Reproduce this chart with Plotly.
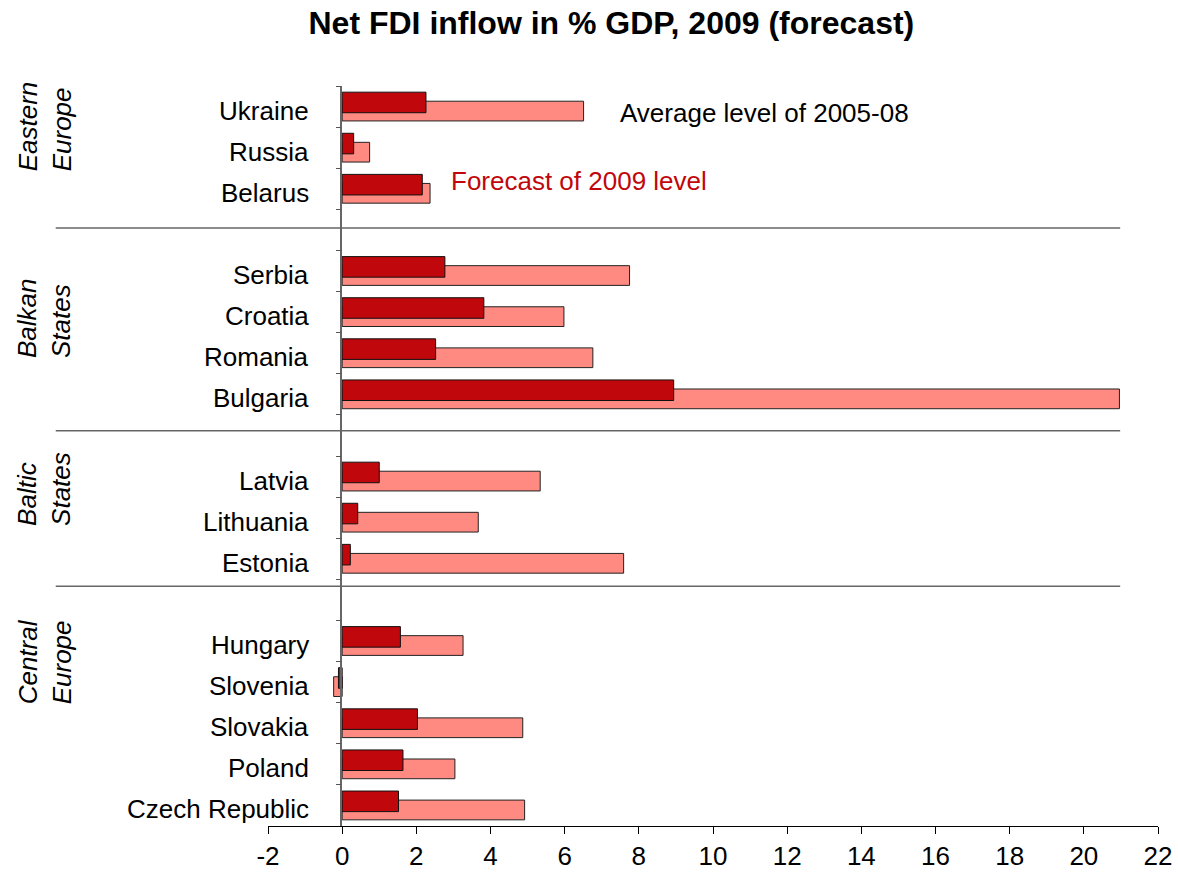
import plotly.graph_objects as go

# ---------------- data ----------------
row_order = ["Ukraine", "Russia", "Belarus", " ",
             "Serbia", "Croatia", "Romania", "Bulgaria", "  ",
             "Latvia", "Lithuania", "Estonia", "   ",
             "Hungary", "Slovenia", "Slovakia", "Poland", "Czech Republic"]
countries = ["Ukraine", "Russia", "Belarus",
             "Serbia", "Croatia", "Romania", "Bulgaria",
             "Latvia", "Lithuania", "Estonia",
             "Hungary", "Slovenia", "Slovakia", "Poland", "Czech Republic"]
forecast_2009 = [2.26, 0.31, 2.16,
                 2.77, 3.82, 2.52, 8.94,
                 1.00, 0.42, 0.22,
                 1.57, -0.10, 2.03, 1.64, 1.52]
average_2005_08 = [6.51, 0.74, 2.37,
                   7.75, 5.98, 6.76, 20.96,
                   5.34, 3.67, 7.59,
                   3.26, -0.23, 4.87, 3.04, 4.92]
group_labels = ["Eastern<br>Europe", "Balkan<br>States", "Baltic<br>States", "Central<br>Europe"]
group_label_y = [0.945, 0.686, 0.455, 0.222]      # paper y of group label centres
separator_y = [0.808, 0.534, 0.324]                 # paper y of group separators
x_ticks = [-2, 0, 2, 4, 6, 8, 10, 12, 14, 16, 18, 20, 22]

DARK = "#C0070C"
LIGHT = "#FF8A82"
FONT = "Liberation Sans, Arial, sans-serif"

fig = go.Figure()
fig.add_trace(go.Bar(
    y=countries, x=average_2005_08, orientation="h",
    width=0.48, offset=-0.13,
    marker=dict(color=LIGHT, line=dict(color="#222222", width=1)),
    name="Average level of 2005-08",
))
fig.add_trace(go.Bar(
    y=countries, x=forecast_2009, orientation="h",
    width=0.5, offset=-0.35,
    marker=dict(color=DARK, line=dict(color="#111111", width=1)),
    name="Forecast of 2009 level",
))

shapes = []
for sy in separator_y:
    shapes.append(dict(type="line", xref="paper", yref="paper",
                       x0=-0.2385, x1=0.9575, y0=sy, y1=sy,
                       line=dict(color="#666666", width=1.5)))

annotations = []
# country labels (right aligned, left of the zero axis)
for c in countries:
    annotations.append(dict(text=c, xref="paper", yref="y", x=0.048, y=c,
                            xanchor="right", yanchor="middle", yshift=-4,
                            showarrow=False,
                            font=dict(family=FONT, size=26, color="black")))
for txt, gy in zip(group_labels, group_label_y):
    annotations.append(dict(text="<i>" + txt.replace("<br>", "</i><br><i>") + "</i>",
                            xref="paper", yref="paper", x=-0.251, y=gy,
                            xanchor="center", yanchor="middle",
                            textangle=-90, align="left", showarrow=False,
                            font=dict(family=FONT, size=26, color="black")))
annotations.append(dict(text="Average level of 2005-08", xref="x", yref="paper",
                        x=7.45, y=0.9635, xanchor="left", yanchor="middle",
                        showarrow=False, font=dict(family=FONT, size=26, color="black")))
annotations.append(dict(text="Forecast of 2009 level", xref="x", yref="paper",
                        x=2.88, y=0.872, xanchor="left", yanchor="middle",
                        showarrow=False, font=dict(family=FONT, size=26, color=DARK)))

fig.update_layout(
    width=1178, height=874,
    margin=dict(l=268, r=20, t=86, b=48),
    paper_bgcolor="white", plot_bgcolor="white",
    barmode="overlay", showlegend=False,
    font=dict(family=FONT, size=26, color="black"),
    title=dict(text="<b>Net FDI inflow in % GDP, 2009 (forecast)</b>",
               xref="container", yref="container", x=0.519, y=0.974,
               xanchor="center", yanchor="middle",
               font=dict(family=FONT, size=32, color="black")),
    xaxis=dict(range=[-2, 22], tickvals=x_ticks, ticktext=[str(v) for v in x_ticks],
               ticks="outside", ticklen=7, tickcolor="black", tickwidth=1,
               showline=True, linecolor="black", linewidth=1,
               showgrid=False, zeroline=False, automargin=False,
               tickfont=dict(family=FONT, size=26, color="black")),
    yaxis=dict(type="category", categoryorder="array", categoryarray=row_order,
               range=[17.5, -0.5], tickson="boundaries",
               ticks="outside", ticklen=5, tickcolor="#555555", tickwidth=1,
               showline=True, linecolor="#666666", linewidth=1.5,
               anchor="free", position=0.0825, automargin=False,
               showgrid=False, zeroline=False, showticklabels=False),
    shapes=shapes, annotations=annotations,
)

fig.write_html("out.html")
